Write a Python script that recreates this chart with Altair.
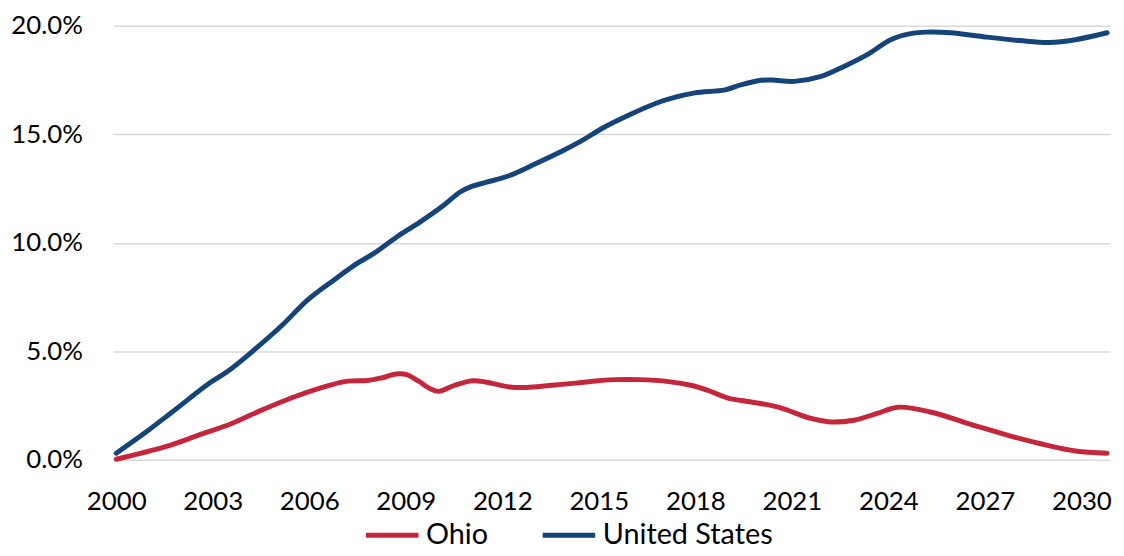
import altair as alt
import pandas as pd

# ---- data (percent) ----
us_years = [2000.0, 2001.0, 2001.74, 2002.87, 2003.49, 2004.2, 2005.13, 2005.96, 2006.78, 2007.5,
            2008.02, 2008.73, 2009.45, 2010.18, 2010.69, 2011.05, 2011.51, 2012.23, 2013.06, 2013.88,
            2014.5, 2015.11, 2015.94, 2016.76, 2017.38, 2017.99, 2018.92, 2019.44, 2020.05, 2020.4,
            2021.08, 2021.91, 2022.62, 2023.4, 2024.07, 2024.69, 2025.19, 2025.93, 2026.94, 2028.09,
            2029.01, 2029.81, 2030.8]
us_vals = [0.30, 1.36, 2.2, 3.5, 4.1, 4.95, 6.16, 7.38, 8.3, 9.06,
           9.52, 10.28, 10.96, 11.73, 12.34, 12.6, 12.79, 13.1, 13.66, 14.24,
           14.73, 15.28, 15.89, 16.42, 16.71, 16.91, 17.05, 17.29, 17.49, 17.5,
           17.44, 17.67, 18.13, 18.72, 19.36, 19.64, 19.71, 19.68, 19.5, 19.32,
           19.23, 19.36, 19.68]

ohio_years = [2000.0, 2001.53, 2002.56, 2003.59, 2004.62, 2005.65, 2006.68, 2007.19, 2007.81, 2008.22,
              2008.7, 2009.0, 2009.4, 2009.76, 2010.02, 2010.5, 2011.07, 2011.51, 2012.23, 2012.75,
              2013.47, 2014.29, 2014.81, 2015.52, 2016.24, 2017.17, 2017.89, 2018.4, 2019.02, 2019.74,
              2020.41, 2020.77, 2021.6, 2022.21, 2022.93, 2023.65, 2024.3, 2025.3, 2026.74,
              2027.77, 2028.8, 2029.82, 2030.8]
ohio_vals = [0.02, 0.6, 1.13, 1.67, 2.35, 2.96, 3.45, 3.62, 3.65, 3.76,
             3.95, 3.93, 3.62, 3.27, 3.15, 3.42, 3.64, 3.57, 3.35, 3.33,
             3.42, 3.53, 3.62, 3.69, 3.69, 3.6, 3.42, 3.19, 2.84, 2.66,
             2.48, 2.33, 1.9, 1.74, 1.82, 2.13, 2.42, 2.2, 1.55,
             1.1, 0.71, 0.4, 0.3]

series_names = ["Ohio", "United States"]
series_colors = ["#C4273C", "#15447A"]
x_ticks = [2000, 2003, 2006, 2009, 2012, 2015, 2018, 2021, 2024, 2027, 2030]
y_ticks = [0, 5, 10, 15, 20]

df = pd.concat([
    pd.DataFrame({"year": ohio_years, "value": ohio_vals, "series": "Ohio"}),
    pd.DataFrame({"year": us_years, "value": us_vals, "series": "United States"}),
])

FONT = "Lato"

chart = alt.Chart(df).mark_line(
    strokeWidth=5, interpolate="catmull-rom", strokeCap="round"
).encode(
    x=alt.X("year:Q",
            scale=alt.Scale(domain=[1999.907, 2030.89], nice=False, zero=False),
            axis=alt.Axis(values=x_ticks, format="d", title=None, grid=False,
                          domain=False, ticks=False, labelPadding=29,
                          labelFontSize=26, labelColor="#000000", labelFont=FONT,
                          labelFlush=False)),
    y=alt.Y("value:Q",
            scale=alt.Scale(domain=[0, 20], nice=False),
            axis=alt.Axis(values=y_ticks, title=None, domain=False, ticks=False,
                          labelExpr="format(datum.value, '.1f') + '%'",
                          labelPadding=31, labelFontSize=26, labelColor="#000000",
                          labelFont=FONT, gridColor="#D9D9D9", gridWidth=1.5)),
    color=alt.Color("series:N",
                    scale=alt.Scale(domain=series_names, range=series_colors),
                    legend=alt.Legend(title=None, orient="none", direction="horizontal",
                                      legendX=252, legendY=484,
                                      symbolType="stroke", symbolSize=2800,
                                      symbolStrokeWidth=5, labelFontSize=29,
                                      labelLimit=400,
                                      labelFont=FONT, labelColor="#000000",
                                      labelOffset=5, columnPadding=44)),
).properties(
    width=1004, height=437,
    padding={"left": 106, "top": 16, "right": 6, "bottom": 87},
    autosize=alt.AutoSizeParams(type="none"),
).configure_view(stroke=None)

chart.save("out.html", embed_options={"renderer": "svg", "actions": False})
